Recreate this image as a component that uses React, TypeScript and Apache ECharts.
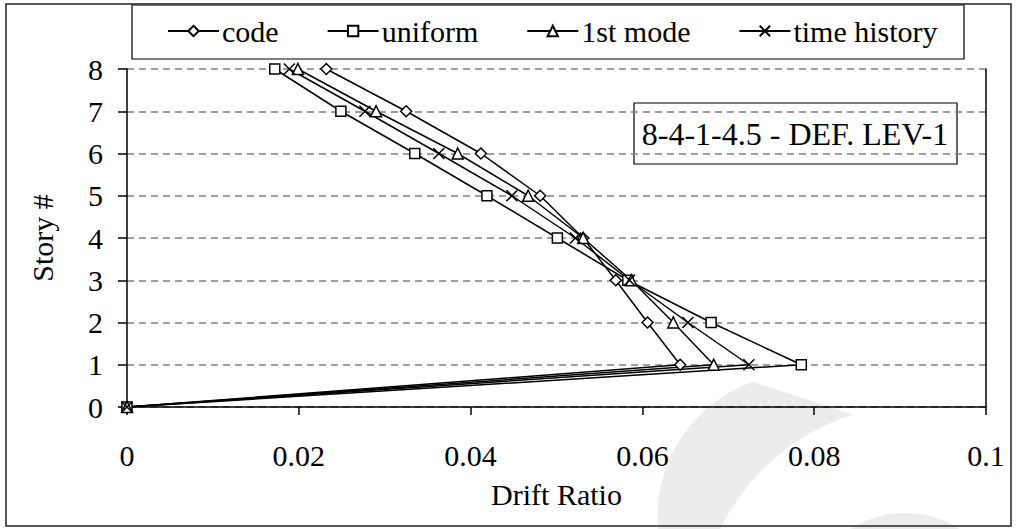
import React, { useEffect, useRef } from "react";
import * as echarts from "echarts";

const stories = [0, 1, 2, 3, 4, 5, 6, 7, 8];
const codeDrift = [0, 0.0644, 0.0606, 0.0569, 0.0531, 0.0481, 0.0412, 0.0325, 0.0232];
const uniformDrift = [0, 0.0785, 0.068, 0.0583, 0.0501, 0.0419, 0.0335, 0.0249, 0.0172];
const firstModeDrift = [0, 0.0683, 0.0636, 0.0587, 0.0531, 0.0467, 0.0385, 0.029, 0.0199];
const timeHistoryDrift = [0, 0.0724, 0.0653, 0.0585, 0.0522, 0.0448, 0.0363, 0.0277, 0.0189];

const seriesNames = ["code", "uniform", "1st mode", "time history"];
const xTicks = [0, 0.02, 0.04, 0.06, 0.08, 0.1];
const annotation = "8-4-1-4.5 - DEF. LEV-1";

const FONT = "'Liberation Serif', 'Times New Roman', serif";
const FS = 30;

function arcPts(cx: number, cy: number, r: number, a0: number, a1: number, n: number) {
  const pts: number[][] = [];
  for (let i = 0; i <= n; i++) {
    const a = ((a0 + ((a1 - a0) * i) / n) * Math.PI) / 180;
    pts.push([cx + r * Math.cos(a), cy + r * Math.sin(a)]);
  }
  return pts;
}

export default function App() {
  const ref = useRef<HTMLDivElement>(null);
  useEffect(() => {
    document.body.style.margin = "0";
    if (!ref.current) return;
    const chart = echarts.init(ref.current, null, { renderer: "svg" });
    const mk = (name: string, vals: number[], symbol: string) => ({
      name,
      type: "line",
      data: vals.map((v, i) => [v, stories[i]]),
      symbol,
      symbolSize: symbol === "rect" ? 10 : 11,
      lineStyle: { color: "#000", width: 1.5 },
      itemStyle: { color: "#fff", borderColor: "#000", borderWidth: 1.5 },
      emphasis: { disabled: true },
      z: 3,
    });
    const wmark = [
      ...arcPts(801, 517, 143.5, 175, 250.4, 30),
      ...arcPts(921, 628, 224, 252.3, 206, 30),
    ];
    chart.setOption({
      animation: false,
      backgroundColor: "#fff",
      textStyle: { fontFamily: FONT, color: "#000" },
      grid: { left: 127, right: 30, top: 69, bottom: 122 },
      legend: {
        left: 162,
        top: 11,
        itemWidth: 51,
        itemHeight: 13,
        itemGap: 48,
        data: seriesNames,
        lineStyle: { width: 2 },
        textStyle: { fontFamily: FONT, fontSize: FS, color: "#000", padding: [0, 0, 0, -2] },
      },
      xAxis: {
        type: "value",
        min: 0,
        max: 0.1,
        interval: 0.02,
        name: "Drift Ratio",
        nameLocation: "middle",
        nameGap: 72,
        nameTextStyle: { fontFamily: FONT, fontSize: FS, color: "#000" },
        axisLine: { show: true, lineStyle: { color: "#000", width: 1.5 } },
        axisTick: { show: true, length: 8, lineStyle: { color: "#000", width: 1.5 } },
        axisLabel: {
          fontFamily: FONT,
          fontSize: FS,
          color: "#000",
          margin: 33,
          formatter: (v: number) => {
            const t = xTicks.find((x) => Math.abs(x - v) < 1e-9);
            return t === undefined ? "" : String(t);
          },
        },
        splitLine: { show: false },
      },
      yAxis: [
        {
          type: "value",
          min: 0,
          max: 8,
          interval: 1,
          name: "Story #",
          nameLocation: "middle",
          nameGap: 70,
          nameTextStyle: { fontFamily: FONT, fontSize: FS, color: "#000" },
          axisLine: { show: true, lineStyle: { color: "#000", width: 1.5 } },
          axisTick: { show: true, length: 9, lineStyle: { color: "#000", width: 1.5 } },
          axisLabel: { fontFamily: FONT, fontSize: FS, color: "#000", margin: 24 },
          splitLine: { show: true, lineStyle: { color: "#808080", width: 1.5, type: [7, 5] } },
        },
        {
          type: "value",
          min: 0,
          max: 8,
          interval: 1,
          position: "right",
          axisLine: { show: true, lineStyle: { color: "#000", width: 1.5 } },
          axisTick: { show: false },
          axisLabel: { show: false },
          splitLine: { show: false },
        },
      ],
      graphic: [
        {
          type: "polygon",
          z: -10,
          silent: true,
          shape: { points: wmark },
          style: { fill: "#ececec" },
        },
        {
          type: "circle",
          z: -10,
          silent: true,
          shape: { cx: 905, cy: 615, r: 102 },
          style: { fill: "#ececec" },
        },
        {
          type: "rect",
          silent: true,
          shape: { x: 6, y: 4, width: 1005, height: 522 },
          style: { fill: "none", stroke: "#222", lineWidth: 1.5 },
        },
        {
          type: "rect",
          silent: true,
          shape: { x: 132, y: 5, width: 832, height: 54 },
          style: { fill: "#fff", stroke: "#000", lineWidth: 1.2 },
          z: -1,
        },
        {
          type: "rect",
          silent: true,
          shape: { x: 634, y: 103, width: 323, height: 61 },
          style: { fill: "none", stroke: "#000", lineWidth: 1.2 },
        },
        {
          type: "text",
          silent: true,
          x: 795,
          y: 134,
          style: {
            text: annotation,
            fontFamily: FONT,
            fontSize: 32,
            fill: "#000",
            align: "center",
            verticalAlign: "middle",
          },
        },
      ],
      series: [
        mk(seriesNames[0], codeDrift, "diamond"),
        mk(seriesNames[1], uniformDrift, "rect"),
        mk(seriesNames[2], firstModeDrift, "triangle"),
        mk(seriesNames[3], timeHistoryDrift, "path://M0,0L10,10M0,10L10,0"),
      ],
    });
    return () => chart.dispose();
  }, []);
  return <div ref={ref} style={{ width: 1016, height: 529 }} />;
}
